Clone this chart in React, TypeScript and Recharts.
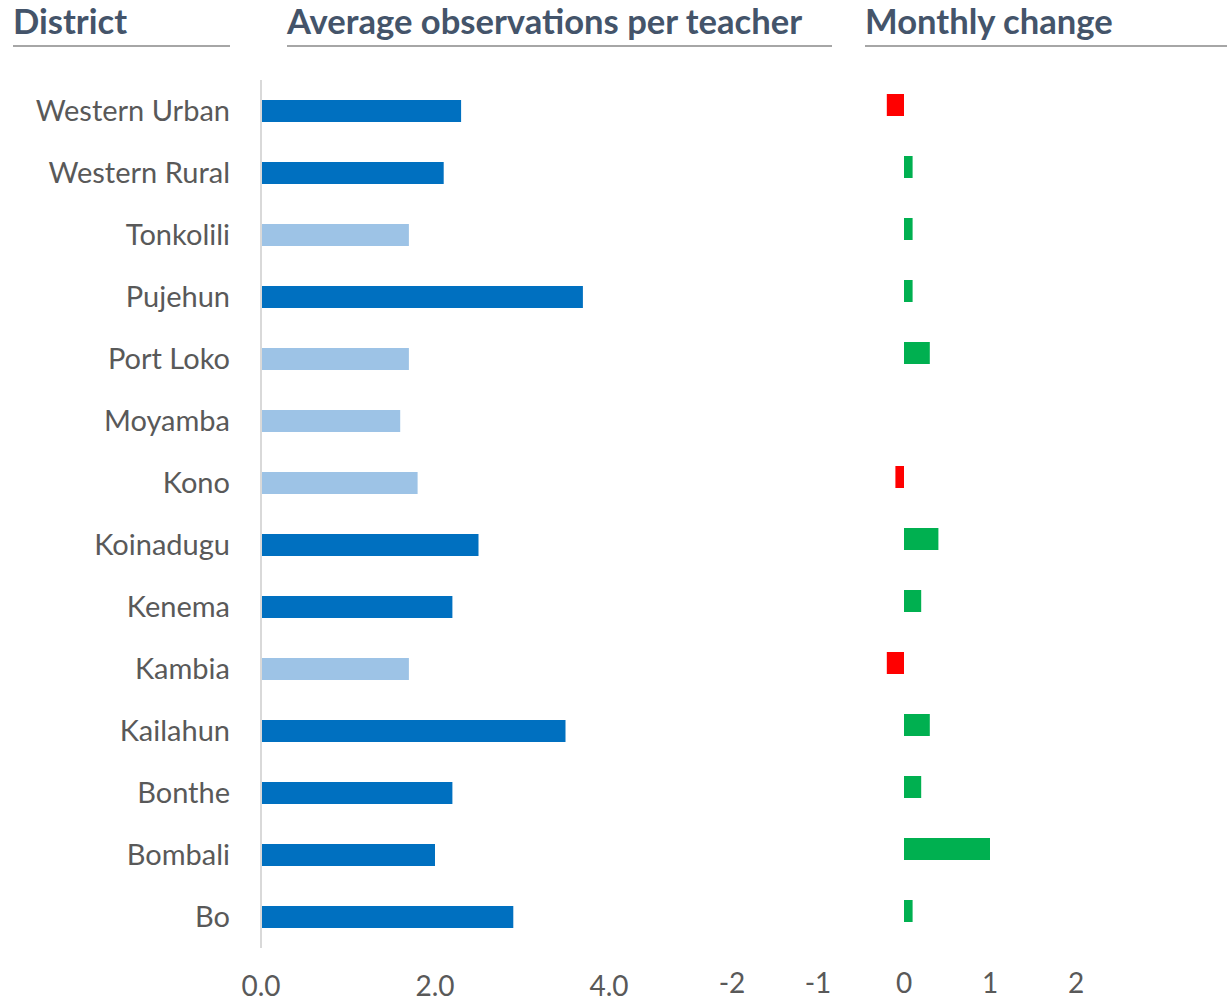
import { BarChart, Bar, XAxis, YAxis, Cell } from 'recharts';

const districts = [
  'Western Urban', 'Western Rural', 'Tonkolili', 'Pujehun', 'Port Loko', 'Moyamba', 'Kono',
  'Koinadugu', 'Kenema', 'Kambia', 'Kailahun', 'Bonthe', 'Bombali', 'Bo',
];
const avgObservations = [2.3, 2.1, 1.7, 3.7, 1.7, 1.6, 1.8, 2.5, 2.2, 1.7, 3.5, 2.2, 2.0, 2.9];
// districts below target are shown in the light shade
const belowTarget = [false, false, true, false, true, true, true, false, false, true, false, false, false, false];
const monthlyChange = [-0.2, 0.1, 0.1, 0.1, 0.3, 0, -0.1, 0.4, 0.2, -0.2, 0.3, 0.2, 1.0, 0.1];
const avgTicks = [0, 2, 4];
const changeTicks = [-2, -1, 0, 1, 2];

const FONT = 'Lato, "Open Sans", sans-serif';
const DARK = '#0070C0';
const LIGHT = '#9DC3E6';
const GREEN = '#00B050';
const RED = '#FF0000';
const HEAD = '#44546A';
const TXT = '#595959';

const data = districts.map((name, i) => ({
  name,
  avg: avgObservations[i],
  low: belowTarget[i],
  change: monthlyChange[i],
}));

function Header({ text, left, width }: { text: string; left: number; width: number }) {
  return (
    <div
      style={{
        position: 'absolute',
        left,
        top: 0,
        width,
        height: 45,
        borderBottom: '2px solid #A6A6A6',
        color: HEAD,
        fontWeight: 700,
        fontSize: 34.6,
        lineHeight: '42px',
        whiteSpace: 'nowrap',
      }}
    >
      {text}
    </div>
  );
}

export default function App() {
  return (
    <div style={{ position: 'absolute', left: 0, top: 0, width: 1227, height: 1002, background: '#fff', fontFamily: FONT, overflow: 'hidden' }}>
      <Header text="District" left={13} width={217} />
      <Header text="Average observations per teacher" left={287} width={545} />
      <Header text="Monthly change" left={865} width={362} />

      <div style={{ position: 'absolute', left: 0, top: 0 }}>
        <BarChart width={700} height={1002} data={data} layout="vertical" margin={{ top: 80, right: 91, bottom: 0, left: 0 }}>
          <XAxis
            type="number"
            domain={[0, 4]}
            ticks={avgTicks}
            tickFormatter={(v: number) => v.toFixed(1)}
            axisLine={false}
            tickLine={false}
            tickMargin={22}
            tick={{ fill: TXT, fontSize: 28, fontFamily: FONT }}
            height={54}
            interval={0}
          />
          <YAxis
            type="category"
            dataKey="name"
            width={261}
            axisLine={{ stroke: '#D9D9D9', strokeWidth: 2 }}
            tickLine={false}
            tickSize={0}
            tickMargin={31}
            interval={0}
            tick={{ fill: TXT, fontSize: 29, fontFamily: FONT }}
          />
          <Bar dataKey="avg" barSize={22} isAnimationActive={false}>
            {data.map((d, i) => (
              <Cell key={i} fill={d.low ? LIGHT : DARK} />
            ))}
          </Bar>
        </BarChart>
      </div>

      <div style={{ position: 'absolute', left: 700, top: 0 }}>
        <BarChart width={420} height={1002} data={data} layout="vertical" margin={{ top: 74, right: 44, bottom: 0, left: 32 }}>
          <XAxis
            type="number"
            domain={[-2, 2]}
            ticks={changeTicks}
            axisLine={false}
            tickLine={false}
            tickMargin={25}
            tick={{ fill: TXT, fontSize: 28, fontFamily: FONT }}
            height={60}
            interval={0}
            allowDataOverflow
          />
          <YAxis type="category" dataKey="name" hide />
          <Bar dataKey="change" barSize={22} isAnimationActive={false}>
            {data.map((d, i) => (
              <Cell key={i} fill={d.change < 0 ? RED : GREEN} />
            ))}
          </Bar>
        </BarChart>
      </div>
    </div>
  );
}
